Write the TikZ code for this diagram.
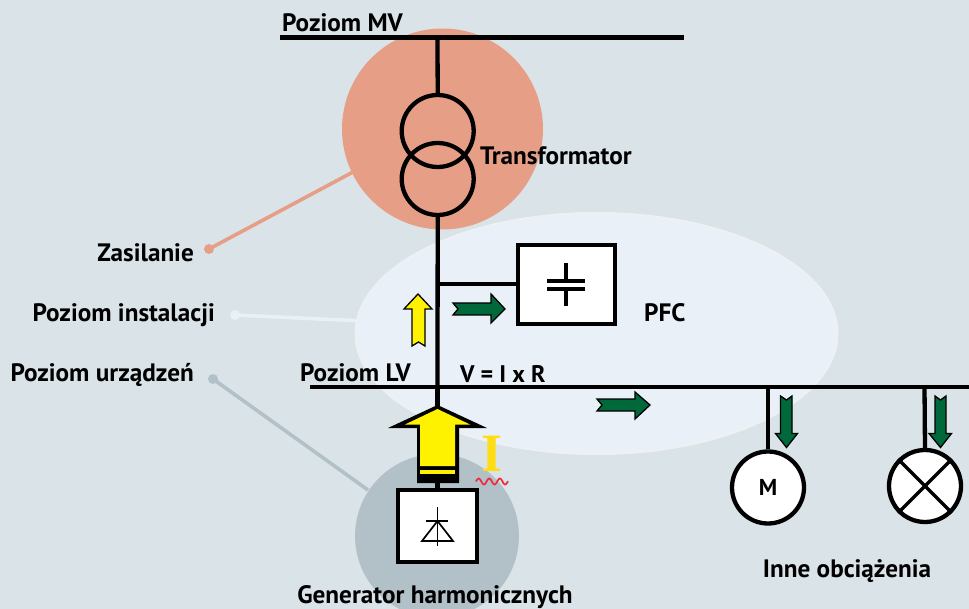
\documentclass[tikz,border=0pt]{standalone}
\usepackage{fontspec}
\setmainfont{PT Sans}
\newfontfamily\serifI{Liberation Serif}
\usetikzlibrary{calc,shapes.geometric}
\definecolor{bgc}{HTML}{DAE3E8}
\definecolor{salmon}{HTML}{E69F86}
\definecolor{paleblue}{HTML}{EAF0F8}
\definecolor{paleedge}{HTML}{EEF1F4}
\definecolor{greyblue}{HTML}{B2C0C8}
\definecolor{arrowgreen}{HTML}{00693C}
\definecolor{yel}{HTML}{FFF200}
\definecolor{gold}{HTML}{FFDD15}
\definecolor{wavered}{HTML}{EE2B3B}
\tikzset{
  x=1pt,y=-1pt,
  wire/.style={line width=4.3pt,black},
  box/.style={draw=black,line width=4.3pt,fill=white,inner sep=0pt},
  ring/.style={circle,draw=black,line width=4.3pt,minimum size=72pt,inner sep=0pt},
  lbl/.style={font=\bfseries\fontsize{25.2}{28}\selectfont,text=black,inner sep=0pt},
  garrow/.style={draw=black,line width=1.3pt,fill=arrowgreen,miter limit=10},
  yarrow/.style={draw=black,line width=1.3pt,fill=yel,miter limit=10},
  leader/.style={line width=3.6pt},
  dotend/.style={circle,inner sep=0pt,minimum size=10pt}
}
\begin{document}
\begin{tikzpicture}
\useasboundingbox (0,0) rectangle (969,609);
\fill[bgc] (0,0) rectangle (969,609);
% leaders
\node[dotend,fill=salmon] (dz) at (209,249) {};
\coordinate (z1) at (353,172);
\draw[leader,salmon] (dz.center) -- (z1);
\node[dotend,fill=paleblue] (di) at (235,315) {};
\coordinate (i1) at (363,321);
\node[dotend,fill=greyblue] (dd) at (213,379) {};
\coordinate (d1) at (368,490);
\draw[leader,greyblue] (dd.center) -- (d1);
% zones
\node[circle,fill=salmon,minimum size=201pt,inner sep=0pt] (supply) at (442.5,129) {};
\node[circle,fill=greyblue,minimum size=164pt,inner sep=0pt] (device) at (437,536) {};
\node[ellipse,draw=paleedge,line width=2pt,fill=paleblue,minimum width=482pt,minimum height=241pt,inner sep=0pt] (install) at (596.5,333.5) {};
\draw[leader,paleblue] (di.center) -- (i1);
% buses
\coordinate (mvl) at (280,37.5); \coordinate (mvr) at (684,37.5);
\draw[wire] (mvl) -- (mvr);
\coordinate (lvl) at (310,387); \coordinate (lvr) at (969,387);
\draw[wire] (lvl) -- (lvr);
% transformer
\coordinate (mvt) at (437.5,37.5);
\node[ring] (t1) at (437.7,131) {};
\node[ring] (t2) at (437.7,179) {};
\draw[wire] (mvt) -- (t1.north);
\coordinate (lvt) at (437.5,387);
\draw[wire] (t2.south) -- (lvt);
% PFC
\node[box,minimum width=97pt,minimum height=79pt] (pfc) at (566.5,284.5) {};
\coordinate (tap) at (437.5,284);
\draw[wire] (tap) -- (pfc.west |- tap);
\draw[line width=3.6pt] (547,281) -- (585,281) (547,289) -- (585,289);
\draw[line width=3.6pt] (566,263) -- (566,281) (566,289) -- (566,306);
% small arrows
\draw[yarrow] (418,294) -- (432,309) -- (425,309) -- (425,346) -- (418.5,342) -- (412,346) -- (412,309) -- (404,309) -- cycle;
\draw[garrow] (453,303) -- (491,303) -- (491,294) -- (505,309) -- (491,323) -- (491,315) -- (453,315) -- (458,309) -- cycle;
\draw[garrow] (597,399) -- (635,399) -- (635,392) -- (650,405) -- (635,419) -- (635,411) -- (597,411) -- (602,405) -- cycle;
\draw[garrow] (780.5,396) -- (786.5,400) -- (792,396) -- (792,433.5) -- (797.5,433.5) -- (786.5,447.5) -- (775.5,433.5) -- (780.5,433.5) -- cycle;
\draw[garrow] (935,396) -- (940.5,400) -- (946,396) -- (946,433.5) -- (951.5,433.5) -- (940.5,447.5) -- (929,433.5) -- (935,433.5) -- cycle;
% loads
\node[ring,fill=white] (motor) at (768,487.5) {};
\node[ring,fill=white] (lamp) at (925,486) {};
\coordinate (mtap) at (768,387); \coordinate (ltap) at (924.5,387);
\draw[wire] (mtap) -- (motor.north);
\draw[wire] (ltap) -- (lamp.north);
\draw[line width=3.4pt] (lamp.north west) -- (lamp.south east) (lamp.north east) -- (lamp.south west);
\node[font=\bfseries\fontsize{23}{26}\selectfont,inner sep=0pt] (mtext) at (motor.center) {M};
% harmonic generator
\node[box,minimum width=79pt,minimum height=72pt] (gen) at (437.5,526) {};
\coordinate (bigtop) at (437.5,387);
\draw[wire] (bigtop) -- (gen.north);
\fill[black] (437.5,405) -- (487,428) -- (459,428) -- (459,483) -- (417,483) -- (417,428) -- (388,428) -- cycle;
\fill[yel] (437.5,409) -- (470,424.5) -- (455,424.5) -- (455,466) -- (420,466) -- (420,424.5) -- (405,424.5) -- cycle;
\fill[yel] (420,470) rectangle (455,474);
\draw[line width=1.7pt,line join=miter] (437.5,507) -- (437.5,546) (426,521) -- (448,521);
\draw[line width=1.7pt,line join=miter] (437.5,521) -- (453,541) -- (422,541) -- cycle;
% current symbol
\node[font=\serifI\bfseries\fontsize{54}{56}\selectfont,text=gold,inner sep=0pt,anchor=base] (cur) at (492,471) {I};
\draw[wavered,line width=1.7pt,domain=0:32,samples=60,smooth] plot ({476+\x},{481.5-3*sin(\x*360/10.6)});
% labels
\node[lbl,anchor=base west] (tmv) at (282,32) {Poziom MV};
\node[lbl,anchor=base west] (ttr) at (480,164.5) {Transformator};
\node[lbl,anchor=base east] (tz) at (194,262) {Zasilanie};
\node[lbl,anchor=base east] (ti) at (215,321.5) {Poziom instalacji};
\node[lbl,anchor=base east] (td) at (194,381.5) {Poziom urządzeń};
\node[lbl,anchor=base west] (tlv) at (300,381.5) {Poziom LV};
\node[lbl,anchor=base west,font=\bfseries\fontsize{24}{28}\selectfont] (tv) at (460,382) {V = I x R};
\node[lbl,anchor=base west] (tpfc) at (644,322) {PFC};
\node[lbl,anchor=base] (tg) at (435,603) {Generator harmonicznych};
\node[lbl,anchor=base] (tn) at (847,577.5) {Inne obciążenia};
\end{tikzpicture}
\end{document}
